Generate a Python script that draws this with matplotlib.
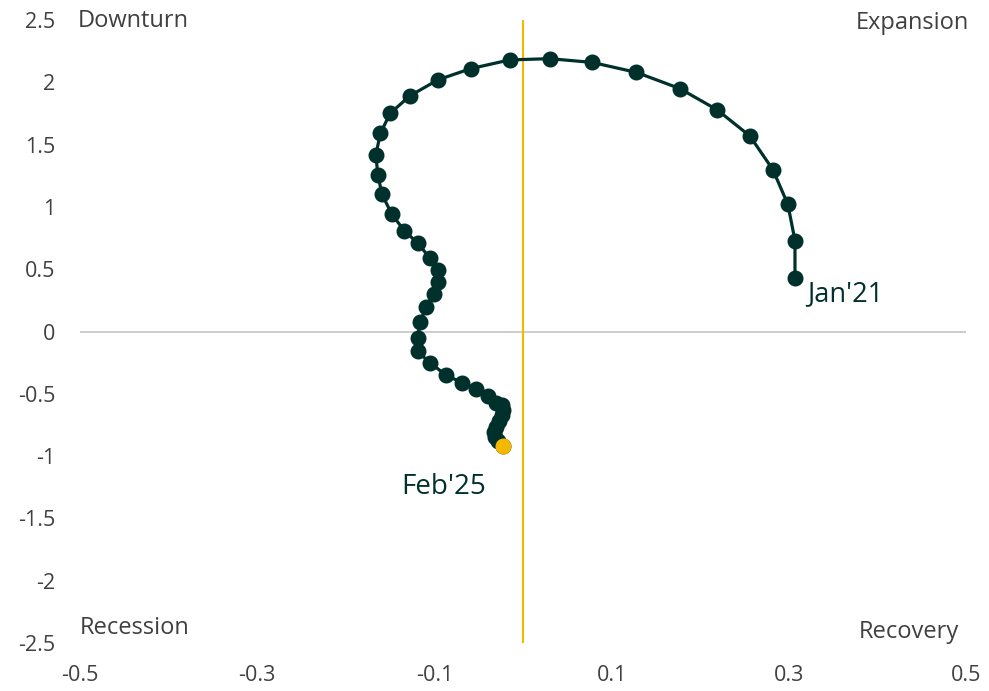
import numpy as np
import matplotlib
matplotlib.use("Agg")
import matplotlib.pyplot as plt

plt.rcParams['font.family'] = ['Open Sans', 'DejaVu Sans']

# Cycle data: growth momentum (x) vs level (y), Jan'21 -> Feb'25
x_vals = [0.307, 0.307, 0.299, 0.282, 0.256, 0.219, 0.177, 0.128, 0.078, 0.030,
          -0.015, -0.059, -0.096, -0.128, -0.150, -0.161, -0.166, -0.164, -0.159, -0.148,
          -0.134, -0.119, -0.105, -0.096, -0.096, -0.101, -0.109, -0.116, -0.119, -0.119,
          -0.105, -0.087, -0.069, -0.053, -0.040, -0.030, -0.024, -0.023, -0.024, -0.027,
          -0.030, -0.033, -0.032, -0.028, -0.023]
y_vals = [0.43, 0.73, 1.02, 1.30, 1.57, 1.78, 1.95, 2.08, 2.16, 2.19,
          2.18, 2.11, 2.02, 1.89, 1.75, 1.59, 1.42, 1.26, 1.10, 0.94,
          0.81, 0.71, 0.59, 0.49, 0.40, 0.30, 0.20, 0.08, -0.05, -0.16,
          -0.25, -0.35, -0.41, -0.46, -0.52, -0.57, -0.59, -0.63, -0.67, -0.72,
          -0.77, -0.81, -0.85, -0.88, -0.92]

x_ticks = [-0.5, -0.3, -0.1, 0.1, 0.3, 0.5]
y_ticks = [2.5, 2, 1.5, 1, 0.5, 0, -0.5, -1, -1.5, -2, -2.5]

DARK = "#00302b"
GOLD = "#f5b800"
GREY_TXT = "#404040"

fig = plt.figure(figsize=(9.89, 6.91), dpi=100)
ax = fig.add_axes([0.0809, 0.0695, 0.8958, 0.9015])

ax.axhline(0, color="#c8c8c8", lw=1.3, zorder=1)
ax.axvline(0, color=GOLD, lw=1.5, zorder=1)

ax.plot(x_vals, y_vals, color=DARK, lw=2.3, marker="o", ms=10.5, zorder=3)
ax.plot(x_vals[-1], y_vals[-1], "o", color=GOLD, ms=10.5, zorder=4)

ax.set_xlim(-0.5, 0.5)
ax.set_ylim(-2.5, 2.5)
ax.set_xticks(x_ticks)
ax.set_yticks(y_ticks)
ax.set_xticklabels([f"{t:g}" for t in x_ticks])
ax.set_yticklabels([f"{t:g}" for t in y_ticks])
ax.tick_params(length=0, labelsize=15.5, labelcolor=GREY_TXT)
ax.tick_params(axis="y", pad=18)
ax.tick_params(axis="x", pad=16)
for s in ax.spines.values():
    s.set_visible(False)

q_kw = dict(fontsize=17, color=GREY_TXT)
ax.text(-0.502, 2.49, "Downturn", ha="left", va="center", **q_kw)
ax.text(0.503, 2.48, "Expansion", ha="right", va="center", **q_kw)
ax.text(-0.500, -2.38, "Recession", ha="left", va="center", **q_kw)
ax.text(0.492, -2.41, "Recovery", ha="right", va="center", **q_kw)

ax.text(0.3206, 0.30, "Jan'21", ha="left", va="center",
        fontsize=19.5, color=DARK)
ax.text(-0.137, -1.245, "Feb'25", ha="left", va="center",
        fontsize=20, color=DARK)

fig.savefig("out.png", dpi=100)
